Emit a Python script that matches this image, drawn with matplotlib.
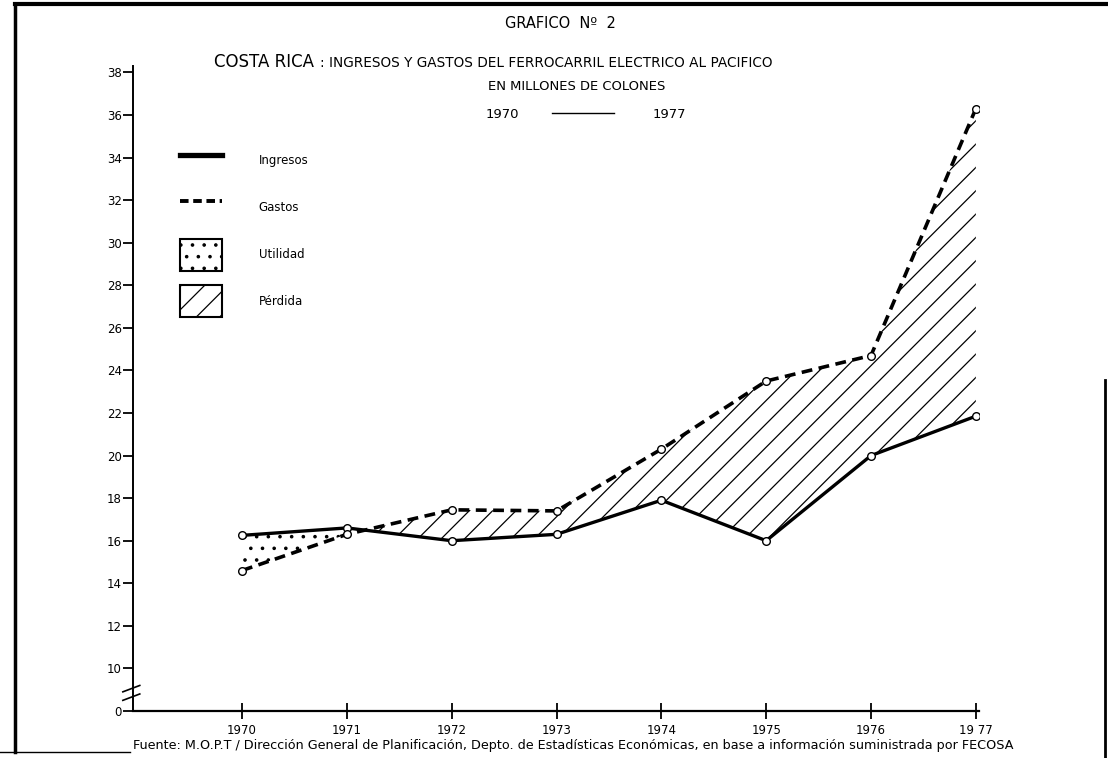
import numpy as np
import matplotlib
matplotlib.use("Agg")
import matplotlib.pyplot as plt
from matplotlib.lines import Line2D
from matplotlib.patches import Patch

# Datos (millones de colones)
anios = np.array([1970, 1971, 1972, 1973, 1974, 1975, 1976, 1977])
ingresos = np.array([16.25, 16.6, 16.0, 16.3, 17.9, 16.0, 20.0, 21.85])
gastos = np.array([14.6, 16.3, 17.45, 17.4, 20.3, 23.5, 24.7, 36.3])

# Eje Y con corte: el "0" se dibuja en la posicion 8
y_ticks = [8, 10, 12, 14, 16, 18, 20, 22, 24, 26, 28, 30, 32, 34, 36, 38]
y_labels = ["0", "10", "12", "14", "16", "18", "20", "22", "24", "26",
            "28", "30", "32", "34", "36", "38"]
x_labels = ["1970", "1971", "1972", "1973", "1974", "1975", "1976", "19 77"]

# dpi bajo para que el rayado quede tan espaciado como en el original;
# S compensa los tamaños en puntos
DPI = 70
S = 100 / DPI

plt.rcParams['font.family'] = ['DejaVu Sans']
plt.rcParams['hatch.linewidth'] = 0.9 * S

W, H = 1108, 758
fig = plt.figure(figsize=(W / DPI, H / DPI), dpi=DPI)
ax = fig.add_axes([133 / W, 1 - 711 / H, (979 - 133) / W, (711 - 66) / H])

# Areas: utilidad (puntos) y perdida (rayado)
ax.fill_between(anios, ingresos, gastos, where=ingresos >= gastos,
                interpolate=True, facecolor='none', edgecolor='black',
                hatch='.', linewidth=0)
ax.fill_between(anios, ingresos, gastos, where=gastos >= ingresos,
                interpolate=True, facecolor='none', edgecolor='black',
                hatch='/', linewidth=0)

# Lineas
ax.plot(anios, ingresos, color='black', lw=2.4 * S, solid_capstyle='round',
        marker='o', ms=5.5 * S, mfc='white', mec='black', mew=1.0 * S, zorder=3)
ax.plot(anios, gastos, color='black', lw=2.6 * S, linestyle=(0, (3, 1.8)),
        marker='o', ms=5.5 * S, mfc='white', mec='black', mew=1.0 * S, zorder=3)

ax.set_xlim(1968.96, 1977.03)
ax.set_ylim(8, 38.3)

for s in ['top', 'right']:
    ax.spines[s].set_visible(False)
ax.spines['left'].set_linewidth(1.4 * S)
ax.spines['bottom'].set_linewidth(1.6 * S)

ax.set_yticks(y_ticks)
ax.set_yticklabels(y_labels)
ax.set_xticks(anios)
ax.set_xticklabels(x_labels)
ax.tick_params(axis='y', direction='out', length=7 * S, width=1.3 * S,
               labelsize=8.5 * S, pad=1 * S)
ax.tick_params(axis='x', direction='inout', length=12 * S, width=1.3 * S,
               labelsize=8.5 * S, pad=3 * S)

# Marca de corte en el eje Y
ytr = ax.get_yaxis_transform()
ax.plot([0, 0], [8.75, 8.95], transform=ytr, color='white', lw=4 * S, clip_on=False)
ax.plot([-0.012, 0.008], [8.9, 9.2], transform=ytr, color='black', lw=1.2 * S, clip_on=False)
ax.plot([-0.012, 0.008], [8.5, 8.8], transform=ytr, color='black', lw=1.2 * S, clip_on=False)

# Leyenda
handles = [
    Line2D([], [], color='black', lw=3.8 * S),
    Line2D([], [], color='black', lw=2.8 * S, linestyle=(0, (2.2, 1.2))),
    Patch(facecolor='white', edgecolor='black', hatch='.', linewidth=1.5 * S),
    Patch(facecolor='white', edgecolor='black', hatch='/', linewidth=1.5 * S),
]
labels = ["Ingresos", "Gastos", "Utilidad", "Pérdida"]
ax.legend(handles, labels, loc='upper left',
          bbox_to_anchor=(180 / W, 1 - 145 / H), bbox_transform=fig.transFigure,
          frameon=False, fontsize=8.5 * S, handlelength=3.55, handleheight=3.8,
          labelspacing=1.25, handletextpad=3.1, borderpad=0, borderaxespad=0)

# Titulos
fig.text(560 / W, 1 - 23 / H, "GRAFICO  Nº  2", ha='center', va='center',
         fontsize=10.5 * S)
fig.text(314 / W, 1 - 62 / H, "COSTA RICA", ha='right', va='center',
         fontsize=12 * S)
fig.text(320 / W, 1 - 63 / H,
         ": INGRESOS Y GASTOS DEL FERROCARRIL ELECTRICO AL PACIFICO",
         ha='left', va='center', fontsize=9.8 * S)
fig.text(577 / W, 1 - 87 / H, "EN MILLONES DE COLONES", ha='center', va='center',
         fontsize=9.5 * S)
fig.text(502 / W, 1 - 114 / H, "1970", ha='center', va='center', fontsize=9.5 * S)
fig.text(669 / W, 1 - 114 / H, "1977", ha='center', va='center', fontsize=9.5 * S)
fig.add_artist(Line2D([552 / W, 614 / W], [1 - 113 / H, 1 - 113 / H],
                      color='black', lw=1.0 * S))

fig.text(133 / W, 1 - 745 / H,
         "Fuente: M.O.P.T / Dirección General de Planificación, Depto. de Estadísticas "
         "Económicas, en base a información suministrada por FECOSA",
         ha='left', va='center', fontsize=9.2 * S)

# Bordes de la hoja escaneada
fig.add_artist(Line2D([15 / W, 1.0], [1 - 4 / H, 1 - 4 / H], color='black', lw=3 * S))
fig.add_artist(Line2D([15 / W, 15 / W], [1 - 4 / H, 1 - 752 / H], color='black', lw=2.5 * S))
fig.add_artist(Line2D([0, 130 / W], [1 - 752 / H, 1 - 752 / H], color='black', lw=1.0 * S))
fig.add_artist(Line2D([1105 / W, 1105 / W], [1 - 380 / H, 0], color='black', lw=2.0 * S))

fig.savefig("out.png", dpi=DPI)
